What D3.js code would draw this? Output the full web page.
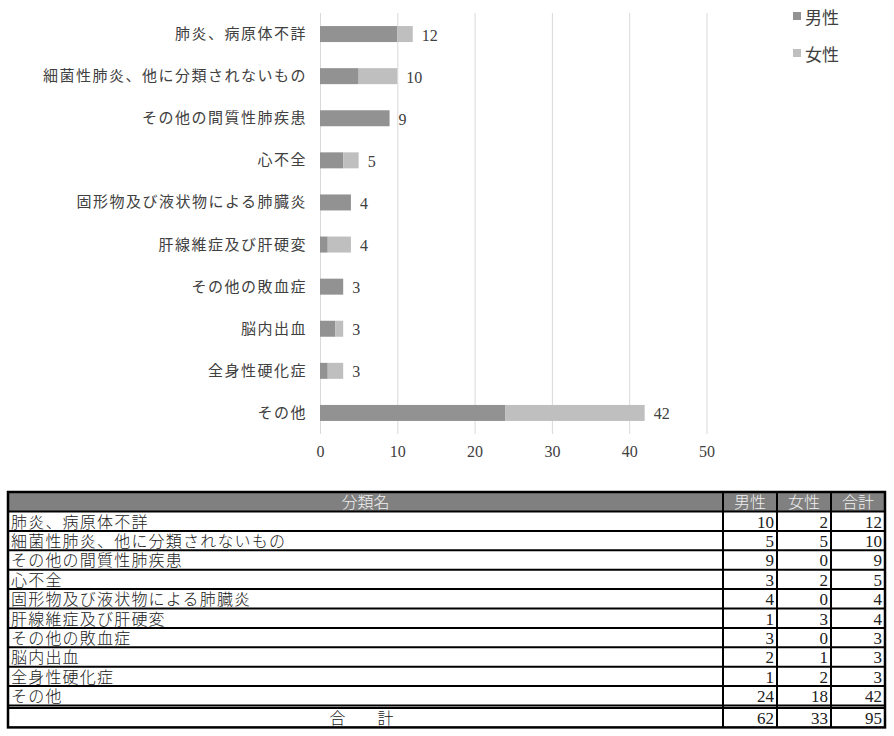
<!DOCTYPE html>
<html>
<head>
<meta charset="UTF-8">
<title>死因 男女別</title>
<script src="https://d3js.org/d3.v7.min.js"></script>
<style>
    body { margin: 0; background: #ffffff; }
    svg { display: block; }
    .serif { font-family: "Liberation Serif", "Noto Sans CJK JP", serif; }
    .gothic { font-family: "Noto Sans CJK JP", sans-serif; }
</style>
</head>
<body>
<div id="chart"></div>
<script>
    // データ
    var categories = ["肺炎、病原体不詳", "細菌性肺炎、他に分類されないもの", "その他の間質性肺疾患", "心不全",
        "固形物及び液状物による肺臓炎", "肝線維症及び肝硬変", "その他の敗血症", "脳内出血", "全身性硬化症", "その他"];
    var male = [10, 5, 9, 3, 4, 1, 3, 2, 1, 24];
    var female = [2, 5, 0, 2, 0, 3, 0, 1, 2, 18];
    var seriesNames = ["男性", "女性"];
    var xTicks = [0, 10, 20, 30, 40, 50];
    var tableHeaders = ["分類名", "男性", "女性", "合計"];
    var totalLabel = "合　計";

    var colors = ["#929292", "#bfbfbf"];
    var textColor = "#404040";

    var W = 894, H = 736;
    var svg = d3.select("#chart").append("svg")
        .attr("width", W)
        .attr("height", H);

    // グラフ部分
    var plot = { left: 320, right: 706.5, top: 13, bottom: 434 };

    var x = d3.scaleLinear().domain([0, 50]).range([plot.left, plot.right]);
    var y = d3.scaleBand().domain(categories).range([plot.top, plot.bottom]).paddingInner(0.62).paddingOuter(0.31);

    var rows = categories.map(function (c, i) {
        return { name: c, male: male[i], female: female[i], total: male[i] + female[i] };
    });

    // 目盛線
    var grid = svg.append("g")
        .attr("transform", "translate(0," + plot.bottom + ")")
        .call(d3.axisBottom(x).tickValues(xTicks).tickSize(-(plot.bottom - plot.top)).tickFormat(""));
    grid.select(".domain").remove();
    grid.selectAll("line").attr("stroke", "#d9d9d9").attr("stroke-width", 1);

    // 軸ラベル
    var axis = svg.append("g")
        .attr("transform", "translate(0," + plot.bottom + ")")
        .call(d3.axisBottom(x).tickValues(xTicks).tickSize(0).tickPadding(12));
    axis.select(".domain").remove();
    axis.selectAll("text")
        .attr("fill", textColor)
        .style("font-size", "16px")
        .style("font-family", "\"Liberation Serif\", serif");

    // 積み上げ棒
    var stack = d3.stack().keys(["male", "female"])(rows);
    svg.selectAll(".series")
        .data(stack)
        .enter()
        .append("g")
        .attr("fill", function (d, i) { return colors[i]; })
        .selectAll("rect")
        .data(function (d) { return d; })
        .enter()
        .append("rect")
        .attr("x", function (d) { return x(d[0]); })
        .attr("y", function (d) { return y(d.data.name); })
        .attr("width", function (d) { return x(d[1]) - x(d[0]); })
        .attr("height", y.bandwidth());

    // 合計ラベル
    svg.selectAll(".total")
        .data(rows)
        .enter()
        .append("text")
        .attr("class", "serif")
        .attr("x", function (d) { return x(d.total) + 9; })
        .attr("y", function (d) { return y(d.name) + y.bandwidth() / 2 + 1; })
        .attr("dominant-baseline", "central")
        .attr("fill", textColor)
        .style("font-size", "16px")
        .text(function (d) { return d.total; });

    // 項目名
    svg.selectAll(".cat")
        .data(rows)
        .enter()
        .append("text")
        .attr("class", "serif")
        .attr("x", x(0) - 13)
        .attr("y", function (d) { return y(d.name) + y.bandwidth() / 2; })
        .attr("text-anchor", "end")
        .attr("dominant-baseline", "central")
        .attr("fill", textColor)
        .style("font-size", "15px")
        .style("letter-spacing", "1.5px")
        .text(function (d) { return d.name; });

    // 凡例
    var legend = svg.selectAll(".legend")
        .data(seriesNames)
        .enter()
        .append("g")
        .attr("transform", function (d, i) { return "translate(793," + (16 + i * 37) + ")"; });
    legend.append("rect")
        .attr("x", 0).attr("y", -4)
        .attr("width", 8).attr("height", 8)
        .attr("fill", function (d, i) { return colors[i]; });
    legend.append("text")
        .attr("class", "gothic")
        .attr("x", 12)
        .attr("dominant-baseline", "central")
        .attr("fill", textColor)
        .style("font-size", "17px")
        .text(function (d) { return d; });

    // 表
    var tbl = { left: 8, right: 885, top: 492, head: 19.5, row: 19.4, gap: 2.5 };
    var colEdges = [tbl.left, 723, 777, 831, tbl.right];
    var bodyTop = tbl.top + tbl.head;
    var ty = d3.scaleBand().domain(categories).range([bodyTop, bodyTop + tbl.row * categories.length]);
    var totalTop = ty.range()[1] + tbl.gap;
    var tblBottom = totalTop + tbl.row;
    var sumMale = d3.sum(male), sumFemale = d3.sum(female);

    var table = svg.append("g").attr("class", "serif");

    // 見出し
    table.append("rect")
        .attr("x", tbl.left).attr("y", tbl.top)
        .attr("width", tbl.right - tbl.left).attr("height", tbl.head)
        .attr("fill", "#808080");
    table.selectAll(".head")
        .data(tableHeaders)
        .enter()
        .append("text")
        .attr("x", function (d, i) { return (colEdges[i] + colEdges[i + 1]) / 2; })
        .attr("y", tbl.top + tbl.head / 2 + 1)
        .attr("text-anchor", "middle")
        .attr("dominant-baseline", "central")
        .attr("fill", "#f0f0f0")
        .style("font-size", "16px")
        .style("font-weight", "300")
        .text(function (d) { return d; });

    // 本体
    var cellRows = rows.map(function (d) { return [d.name, d.male, d.female, d.total]; });
    var tr = table.selectAll(".tr")
        .data(cellRows)
        .enter()
        .append("g")
        .attr("transform", function (d) { return "translate(0," + ty(d[0]) + ")"; });
    tr.selectAll("text")
        .data(function (d) { return d; })
        .enter()
        .append("text")
        .attr("x", function (d, i) { return i === 0 ? colEdges[0] + 3 : colEdges[i + 1] - 3; })
        .attr("y", tbl.row / 2 + 1)
        .attr("text-anchor", function (d, i) { return i === 0 ? "start" : "end"; })
        .attr("dominant-baseline", "central")
        .attr("fill", "#202020")
        .style("font-size", function (d, i) { return i === 0 ? "16px" : "17px"; })
        .style("font-weight", function (d, i) { return i === 0 ? "300" : "400"; })
        .style("letter-spacing", function (d, i) { return i === 0 ? "1.2px" : "0px"; })
        .text(function (d) { return d; });

    // 合計行
    var totalCells = [totalLabel, sumMale, sumFemale, sumMale + sumFemale];
    table.selectAll(".tot")
        .data(totalCells)
        .enter()
        .append("text")
        .attr("x", function (d, i) { return i === 0 ? (colEdges[0] + colEdges[1]) / 2 : colEdges[i + 1] - 3; })
        .attr("y", totalTop + tbl.row / 2 + 1)
        .attr("text-anchor", function (d, i) { return i === 0 ? "middle" : "end"; })
        .attr("dominant-baseline", "central")
        .attr("fill", "#202020")
        .style("font-size", function (d, i) { return i === 0 ? "16px" : "17px"; })
        .style("font-weight", function (d, i) { return i === 0 ? "300" : "400"; })
        .style("letter-spacing", function (d, i) { return i === 0 ? "8px" : "0px"; })
        .text(function (d) { return d; });

    // 罫線
    var lineYs = [tbl.top + tbl.head].concat(categories.map(function (c) { return ty(c) + tbl.row; }));
    table.selectAll(".hline")
        .data(lineYs)
        .enter()
        .append("line")
        .attr("x1", tbl.left).attr("x2", tbl.right)
        .attr("y1", function (d) { return d; }).attr("y2", function (d) { return d; })
        .attr("stroke", "#000").attr("stroke-width", 2);
    table.append("line")
        .attr("x1", tbl.left).attr("x2", tbl.right)
        .attr("y1", totalTop).attr("y2", totalTop)
        .attr("stroke", "#000").attr("stroke-width", 2);
    table.selectAll(".vline")
        .data(colEdges.slice(1, -1))
        .enter()
        .append("line")
        .attr("x1", function (d) { return d; }).attr("x2", function (d) { return d; })
        .attr("y1", tbl.top).attr("y2", tblBottom)
        .attr("stroke", "#000").attr("stroke-width", 2);
    table.append("rect")
        .attr("x", tbl.left).attr("y", tbl.top)
        .attr("width", tbl.right - tbl.left).attr("height", tblBottom - tbl.top)
        .attr("fill", "none")
        .attr("stroke", "#000").attr("stroke-width", 2.5);
</script>
</body>
</html>
